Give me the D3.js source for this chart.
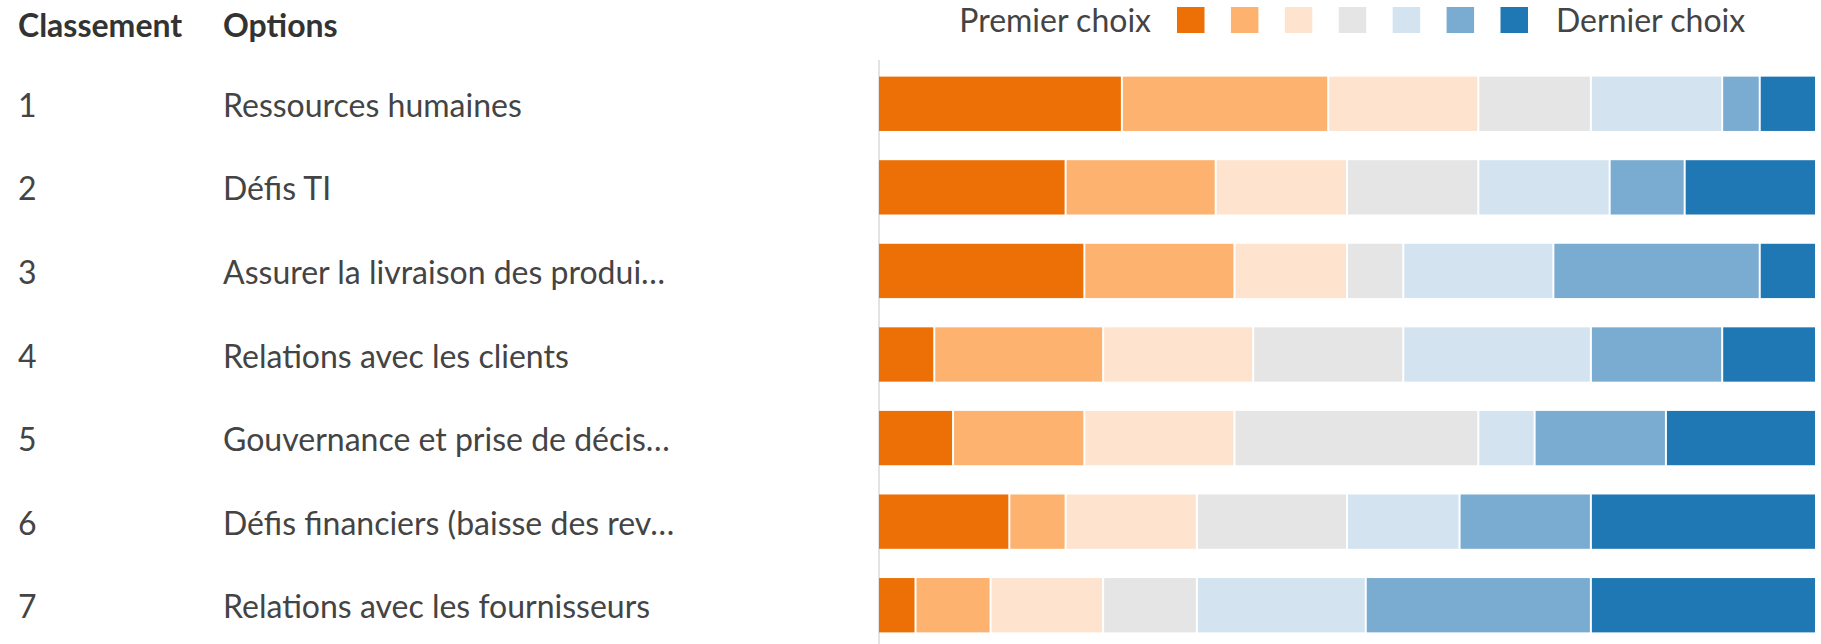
<!DOCTYPE html>
<html lang="fr">
<head>
    <meta charset="UTF-8">
    <title>Classement des options</title>
    <style>
        body { margin: 0; background: #fff; }
        text { font-family: "Lato", "Open Sans", sans-serif; }
    </style>
</head>
<body>
    <div id="chart"></div>
    <script src="https://cdnjs.cloudflare.com/ajax/libs/d3/7.8.5/d3.min.js"></script>
    <script>
        // Data (50 réponses par option)
        const ranks = ["1", "2", "3", "4", "5", "6", "7"];
        const options = [
            "Ressources humaines",
            "Défis TI",
            "Assurer la livraison des produi…",
            "Relations avec les clients",
            "Gouvernance et prise de décis…",
            "Défis financiers (baisse des rev…",
            "Relations avec les fournisseurs"
        ];
        const choiceKeys = ["c1", "c2", "c3", "c4", "c5", "c6", "c7"];
        const counts = [
            [13, 11, 8, 6, 7, 2, 3],
            [10, 8, 7, 7, 7, 4, 7],
            [11, 8, 6, 3, 8, 11, 3],
            [3, 9, 8, 8, 10, 7, 5],
            [4, 7, 8, 13, 3, 7, 8],
            [7, 3, 7, 8, 6, 7, 12],
            [2, 4, 6, 5, 9, 12, 12]
        ];
        const colors = ["#ec7006", "#feb26f", "#fee4cf", "#e5e5e5", "#d3e4f0", "#7aacd2", "#1f77b4"];
        const legendLabels = ["Premier choix", "Dernier choix"];

        const width = 1821, height = 644;

        const svg = d3.select("#chart")
                      .append("svg")
                      .attr("width", width)
                      .attr("height", height);

        // build rows for d3.stack
        const rows = options.map(function(name, i) {
            const row = { name: name, rank: ranks[i] };
            choiceKeys.forEach(function(k, j) { row[k] = counts[i][j]; });
            return row;
        });

        const total = d3.max(counts, c => d3.sum(c));

        const x = d3.scaleLinear()
                    .domain([0, total])
                    .range([879, 1817]);

        const y = d3.scaleBand()
                    .domain(options)
                    .range([62, 647])
                    .paddingInner(0.35)
                    .paddingOuter(0.175);

        const color = d3.scaleOrdinal()
                        .domain(choiceKeys)
                        .range(colors);

        const series = d3.stack().keys(choiceKeys)(rows);

        // vertical axis line
        svg.append("line")
           .attr("x1", x(0)).attr("x2", x(0))
           .attr("y1", 60).attr("y2", height)
           .attr("stroke", "#e3e3e3")
           .attr("stroke-width", 2);

        // stacked bars
        svg.append("g")
           .selectAll("g")
           .data(series)
           .join("g")
           .attr("fill", d => color(d.key))
           .selectAll("rect")
           .data(d => d)
           .join("rect")
           .attr("x", d => x(d[0]))
           .attr("y", d => y(d.data.name))
           .attr("width", d => Math.max(0, x(d[1]) - x(d[0]) - 2))
           .attr("height", y.bandwidth());

        // headers
        svg.append("text")
           .attr("x", 18).attr("y", 37)
           .attr("font-size", 32).attr("font-weight", "bold")
           .attr("fill", "#333")
           .text("Classement");

        svg.append("text")
           .attr("x", 223).attr("y", 37)
           .attr("font-size", 32).attr("font-weight", "bold")
           .attr("fill", "#333")
           .text("Options");

        // row labels
        const labels = svg.append("g")
                          .selectAll("g")
                          .data(rows)
                          .join("g")
                          .attr("transform", d => "translate(0," + (y(d.name) + y.bandwidth() / 2) + ")");

        labels.append("text")
              .attr("x", 18)
              .attr("y", 13)
              .attr("font-size", 32)
              .attr("fill", "#444")
              .text(d => d.rank);

        labels.append("text")
              .attr("x", 223)
              .attr("y", 13)
              .attr("font-size", 32)
              .attr("fill", "#444")
              .text(d => d.name);

        // legend
        const legend = svg.append("g");
        const swatch = d3.scaleBand()
                         .domain(choiceKeys)
                         .range([1177, 1528])
                         .paddingInner(0.49)
                         .paddingOuter(0);

        legend.selectAll("rect")
              .data(choiceKeys)
              .join("rect")
              .attr("x", d => swatch(d))
              .attr("y", 7)
              .attr("width", swatch.bandwidth())
              .attr("height", 26)
              .attr("fill", d => color(d));

        legend.append("text")
              .attr("x", 1151).attr("y", 32)
              .attr("text-anchor", "end")
              .attr("font-size", 32)
              .attr("fill", "#444")
              .text(legendLabels[0]);

        legend.append("text")
              .attr("x", 1556).attr("y", 32)
              .attr("font-size", 32)
              .attr("fill", "#444")
              .text(legendLabels[1]);
    </script>
</body>
</html>
